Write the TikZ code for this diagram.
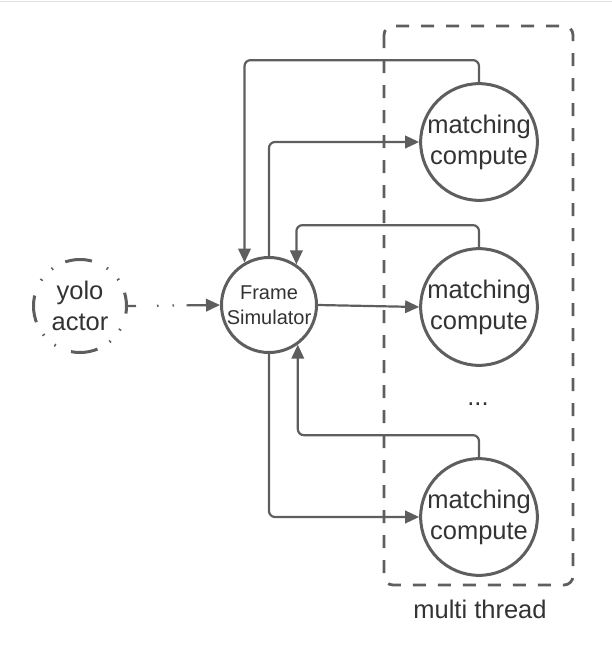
\documentclass[tikz,border=0pt]{standalone}
\usepackage{fontspec}
\setmainfont{Liberation Sans}
\usetikzlibrary{arrows.meta}
\definecolor{ln}{HTML}{5E5E5E}
\definecolor{tx}{HTML}{333333}
\begin{document}
\begin{tikzpicture}[x=1pt,y=-1pt,
  circ/.style={circle,draw=ln,line width=3pt,minimum size=95pt,inner sep=0pt,align=center,text=tx},
  big/.style={font=\fontsize{25.5}{31}\selectfont},
  small/.style={font=\fontsize{20}{25}\selectfont},
  conn/.style={draw=ln,line width=2.2pt,rounded corners=6pt,-{Triangle[length=14pt,width=12.5pt]}},
  lbl/.style={text=tx,inner sep=0pt}]
\useasboundingbox (0,0) rectangle (612,656);
\draw[black!12,line width=1.5pt] (0,1.5) -- (612,1.5);
\draw[ln,line width=2.8pt,dash pattern=on 13pt off 12pt,rounded corners=9pt] (384,26) rectangle (573,585);
\node[lbl,big] (mt) at (480,609) {multi thread};
\node[circ,big] (m1) at (479,142) {matching\\compute};
\node[circ,big] (m2) at (479,307) {matching\\compute};
\node[circ,big] (m3) at (479,517) {matching\\compute};
\node[lbl,big] (dots) at (478,404) {...};
\node[circ,small] (f) at (269,305) {Frame\\Simulator};
\node[circle,draw=ln,line width=3pt,minimum size=93pt,inner sep=0pt,align=center,text=tx,big,
  dash pattern=on 27pt off 14pt on 1.5pt off 14pt on 1.5pt off 16.5pt,dash phase=13.5pt] (y) at (80,306) {yolo\\actor};
\draw[conn,dash pattern=on 8pt off 21pt on 1.5pt off 14pt on 1.5pt off 12.5pt on 60pt] (y.east) -- (f.west);
\draw[conn] (m1.north) -- ++(0,-22) -| (f.120);
\draw[conn] (f.north) |- (m1.west);
\draw[conn] (m2.north) -- ++(0,-22) -| (f.56);
\draw[conn] (f.east) -- (m2.west);
\draw[conn] (m3.north) -- ++(0,-22) -| (f.-54);
\draw[conn] (f.south) |- (m3.west);
\end{tikzpicture}
\end{document}
